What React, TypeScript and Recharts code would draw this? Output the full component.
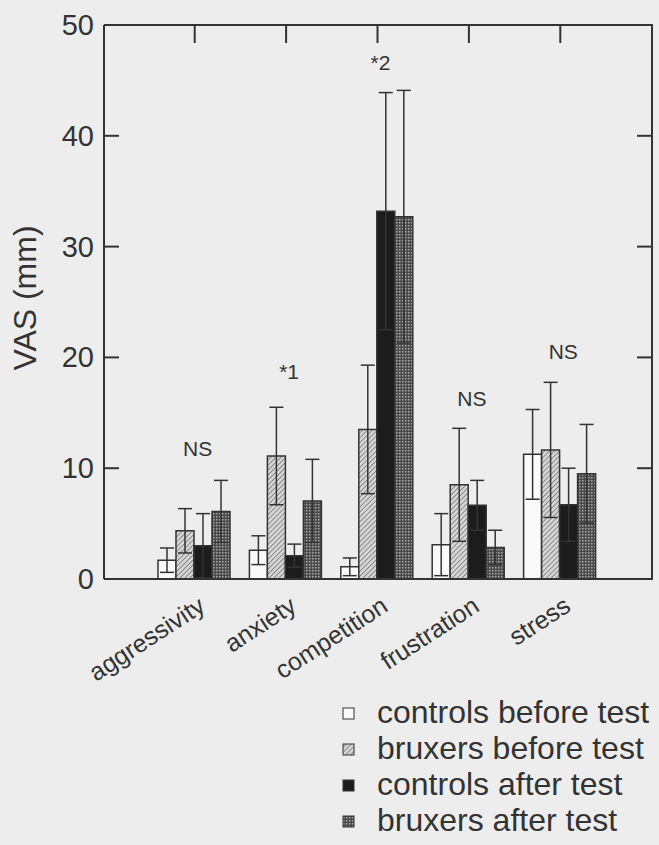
import {
  ComposedChart,
  Bar,
  XAxis,
  YAxis,
  ErrorBar,
  Scatter,
  Legend,
} from 'recharts'

// values (VAS, mm), mean and SD per category
const categories = ['aggressivity', 'anxiety', 'competition', 'frustration', 'stress']

const controlsBefore = [1.7, 2.6, 1.1, 3.1, 11.25]
const controlsBeforeSd = [1.1, 1.3, 0.8, 2.8, 4.05]

const bruxersBefore = [4.35, 11.1, 13.5, 8.5, 11.65]
const bruxersBeforeSd = [2.0, 4.4, 5.8, 5.1, 6.1]

const controlsAfter = [3.0, 2.1, 33.2, 6.65, 6.7]
const controlsAfterSd = [2.9, 1.05, 10.7, 2.25, 3.3]

const bruxersAfter = [6.1, 7.05, 32.7, 2.85, 9.5]
const bruxersAfterSd = [2.8, 3.75, 11.4, 1.55, 4.45]

const significance = ['NS', '*1', '*2', 'NS', 'NS']
const significanceAt = [11.8, 18.7, 46.6, 16.3, 20.5]

const yTicks = [0, 10, 20, 30, 40, 50]

const series = [
  { key: 'cb', name: 'controls before test', fill: '#fafafa' },
  { key: 'bb', name: 'bruxers before test', fill: 'url(#hatch)' },
  { key: 'ca', name: 'controls after test', fill: '#1c1c1c' },
  { key: 'ba', name: 'bruxers after test', fill: 'url(#dots)' },
]

const data = categories.map((name, i) => ({
  name,
  cb: controlsBefore[i],
  cbSd: controlsBeforeSd[i],
  bb: bruxersBefore[i],
  bbSd: bruxersBeforeSd[i],
  ca: controlsAfter[i],
  caSd: controlsAfterSd[i],
  ba: bruxersAfter[i],
  baSd: bruxersAfterSd[i],
  sig: significanceAt[i],
  sigText: significance[i],
}))

// layout
const W = 659
const H = 845
const RIGHT_MARGIN = 7
const BOTTOM_AXIS_H = 266
const PLOT_RIGHT = W - RIGHT_MARGIN
const PLOT_BOTTOM = H - BOTTOM_AXIS_H

const ink = '#333'
const font = '"Liberation Sans", Arial, sans-serif'

const CategoryTick = ({ x, y, payload }: any) => {
  const ax = x + 12
  const ay = y + 31
  return (
    <text
      x={ax}
      y={ay}
      transform={`rotate(-33, ${ax}, ${ay})`}
      textAnchor="end"
      fontSize={25}
      fill={ink}
    >
      {payload.value}
    </text>
  )
}

// label 10px left of the axis, inward ticks on the left and right of the frame,
// and the right edge of the frame drawn from the top tick
const LeftTick = ({ x, y, payload }: any) => {
  const inner = payload.value > 0 && payload.value < 50
  return (
    <g>
      {inner && (
        <line x1={x + 10} y1={y} x2={x + 25} y2={y} stroke={ink} strokeWidth={2} />
      )}
      {inner && (
        <line
          x1={PLOT_RIGHT - 15}
          y1={y}
          x2={PLOT_RIGHT}
          y2={y}
          stroke={ink}
          strokeWidth={2}
        />
      )}
      {payload.value === 50 && (
        <line
          x1={PLOT_RIGHT}
          y1={y - 1}
          x2={PLOT_RIGHT}
          y2={PLOT_BOTTOM + 1}
          stroke={ink}
          strokeWidth={2}
        />
      )}
      <text
        x={x}
        y={y}
        textAnchor="end"
        dominantBaseline="central"
        fontSize={29}
        fill={ink}
      >
        {payload.value}
      </text>
    </g>
  )
}

const TopTick = ({ x, y }: any) => (
  <line x1={x} y1={y} x2={x} y2={y + 18} stroke={ink} strokeWidth={2} />
)

const SigMark = ({ cx, cy, payload }: any) => (
  <text
    x={cx + 3}
    y={cy}
    textAnchor="middle"
    dominantBaseline="central"
    fontSize={21}
    fill={ink}
  >
    {payload.sigText}
  </text>
)

const LegendBox = () => (
  <div style={{ fontSize: 32, lineHeight: '36px', color: ink }}>
    {series.map((s) => (
      <div key={s.key} style={{ display: 'flex', alignItems: 'center' }}>
        <svg width={37} height={36}>
          <rect
            x={3}
            y={14}
            width={11}
            height={11}
            fill={s.fill}
            stroke={ink}
            strokeWidth={1}
          />
        </svg>
        <span>{s.name}</span>
      </div>
    ))}
  </div>
)

const App = () => {
  return (
    <div
      style={{
        position: 'absolute',
        left: 0,
        top: 0,
        width: W,
        height: H,
        background: '#ededed',
        fontFamily: font,
      }}
    >
      <ComposedChart
        width={W}
        height={H}
        data={data}
        margin={{ top: 24, right: RIGHT_MARGIN, left: 0, bottom: 0 }}
        barGap={0}
        barCategoryGap={9}
      >
        <defs>
          <pattern
            id="hatch"
            patternUnits="userSpaceOnUse"
            width={3.5}
            height={3.5}
            patternTransform="rotate(45)"
          >
            <rect width={3.5} height={3.5} fill="#d6d6d6" />
            <line x1={0} y1={0} x2={0} y2={3.5} stroke="#6a6a6a" strokeWidth={1.4} />
          </pattern>
          <pattern
            id="dots"
            patternUnits="userSpaceOnUse"
            width={3}
            height={3}
          >
            <rect width={3} height={3} fill="#4a4a4a" />
            <rect width={1.5} height={1.5} fill="#a8a8a8" />
          </pattern>
        </defs>

        <XAxis
          dataKey="name"
          height={BOTTOM_AXIS_H}
          padding={{ left: 45, right: 46 }}
          tick={<CategoryTick />}
          tickLine={false}
          tickSize={0}
          tickMargin={0}
          axisLine={{ stroke: ink, strokeWidth: 2 }}
          interval={0}
        />
        <XAxis
          xAxisId="top"
          dataKey="name"
          orientation="top"
          height={1}
          padding={{ left: 45, right: 46 }}
          tick={<TopTick />}
          tickLine={false}
          tickSize={0}
          tickMargin={0}
          interval={0}
          axisLine={{ stroke: ink, strokeWidth: 2 }}
        />

        <YAxis
          width={104}
          domain={[0, 50]}
          ticks={yTicks}
          tickSize={0}
          tickMargin={10}
          tick={<LeftTick />}
          tickLine={false}
          axisLine={{ stroke: ink, strokeWidth: 2 }}
          label={{
            content: () => (
              <text
                x={36}
                y={298}
                transform="rotate(-90, 36, 298)"
                textAnchor="middle"
                fontSize={32}
                fill={ink}
              >
                VAS (mm)
              </text>
            ),
          }}
        />

        {series.map((s) => (
          <Bar
            key={s.key}
            dataKey={s.key}
            name={s.name}
            fill={s.fill}
            stroke={ink}
            strokeWidth={1.5}
            isAnimationActive={false}
          >
            <ErrorBar
              dataKey={`${s.key}Sd`}
              width={7}
              stroke={ink}
              strokeWidth={1.5}
              direction="y"
            />
          </Bar>
        ))}

        <Scatter
          dataKey="sig"
          shape={<SigMark />}
          isAnimationActive={false}
          legendType="none"
        />

        <Legend
          layout="vertical"
          align="center"
          verticalAlign="middle"
          content={<LegendBox />}
          wrapperStyle={{ left: 340, top: 694, width: 320 }}
        />
      </ComposedChart>
    </div>
  )
}

export default App
